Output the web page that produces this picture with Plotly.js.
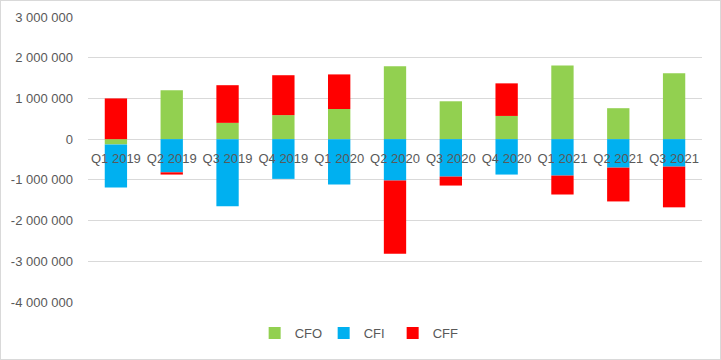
<!DOCTYPE html>
<html>
<head>
<meta charset="utf-8">
<script src="https://cdn.plot.ly/plotly-3.0.1.min.js"></script>
<style>
  html, body { margin: 0; padding: 0; background: #fff; }
  #frame { width: 721px; height: 360px; box-sizing: border-box; border: 1px solid #d9d9d9; }
  #chart { width: 719px; height: 358px; }
</style>
</head>
<body>
<div id="frame"><div id="chart"></div></div>
<script>
const categories = ["Q1 2019","Q2 2019","Q3 2019","Q4 2019","Q1 2020","Q2 2020","Q3 2020","Q4 2020","Q1 2021","Q2 2021","Q3 2021"];
const cfo = [-130000, 1200000, 400000, 590000, 740000, 1790000, 930000, 570000, 1810000, 760000, 1620000];
const cfi = [-1060000, -815000, -1650000, -976000, -1115000, -1017000, -920000, -870000, -895000, -700000, -675000];
const cff = [1000000, -55000, 925000, 980000, 850000, -1800000, -220000, 800000, -465000, -830000, -1000000];
const yTickVals = [-4000000, -3000000, -2000000, -1000000, 0, 1000000, 2000000, 3000000];
const yTickText = ["-4 000 000", "-3 000 000", "-2 000 000", "-1 000 000", "0", "1 000 000", "2 000 000", "3 000 000"];

const yMin = -4000000, yMax = 3000000;
const font = { family: "Liberation Sans, Arial, sans-serif", size: 13, color: "#595959" };

const traces = [
  { type: "bar", name: "CFO", x: categories, y: cfo, marker: { color: "#92D050" }, hoverinfo: "skip" },
  { type: "bar", name: "CFI", x: categories, y: cfi, marker: { color: "#00B0F0" }, hoverinfo: "skip" },
  { type: "bar", name: "CFF", x: categories, y: cff, marker: { color: "#FF0000" }, hoverinfo: "skip" }
];

const layout = {
  width: 719, height: 358,
  margin: { l: 87, r: 18, t: 16, b: 56 },
  paper_bgcolor: "#ffffff", plot_bgcolor: "#ffffff",
  font: font,
  barmode: "relative",
  bargap: 0.6,
  showlegend: true,
  legend: { orientation: "h", x: 0.44, xanchor: "center", y: -0.105, yanchor: "middle", font: font,
            itemwidth: 30, entrywidth: 24, traceorder: "normal" },
  xaxis: {
    type: "category",
    anchor: "free",
    position: (0 - yMin) / (yMax - yMin),
    showgrid: false, zeroline: false, showline: false,
    ticks: "", ticklabelstandoff: 10, tickfont: font
  },
  yaxis: {
    range: [yMin, yMax],
    tickvals: yTickVals, ticktext: yTickText,
    showgrid: true, gridcolor: "#d9d9d9", gridwidth: 1,
    zeroline: true, zerolinecolor: "#d9d9d9", zerolinewidth: 1,
    showline: false, ticks: "", ticklabelstandoff: 14, tickfont: font
  }
};

Plotly.newPlot("chart", traces, layout, { displayModeBar: false, staticPlot: true });
</script>
</body>
</html>
